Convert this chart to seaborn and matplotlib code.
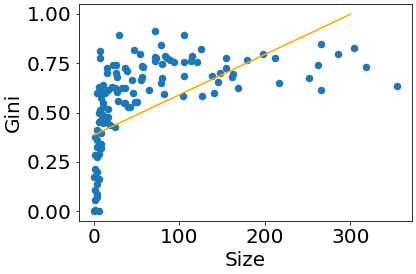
import matplotlib

matplotlib.use("Agg")
import matplotlib.pyplot as plt
import numpy as np
import pandas as pd
import seaborn as sns


OUT_PATH = "out.png"

# group size vs gini
size = [
    72, 78, 71, 73, 71, 83, 86, 89, 94, 80, 80, 79, 64, 82,
    106, 125, 115, 114, 121, 106, 105, 104, 127, 138, 147, 145, 141,
    155, 155, 161, 163, 169, 179, 198, 212, 216, 251, 262, 265, 266,
    285, 304, 318, 354,
    47, 54, 56, 58, 36, 39, 56, 55, 45, 36, 46, 36, 42, 50,
    29, 7, 7, 23, 26, 16, 15, 26, 27,
    33, 25, 21, 17, 13, 9, 4, 11, 6, 27,
    28, 35, 40, 48,
    8, 11, 7, 11, 17, 6, 11, 17, 8, 6, 15,
    11, 19, 25, 4, 8, 2,
    4, 8, 4, 9, 2, 6, 4,
    2, 4, 0, 6, 4,
    2, 4, 2, 4,
    2, 6, 0,
]
gini = [
    0.914, 0.843, 0.783, 0.775, 0.761, 0.788, 0.775, 0.766, 0.758, 0.744, 0.673, 0.651, 0.614, 0.595,
    0.893, 0.822, 0.788, 0.761, 0.756, 0.756, 0.687, 0.584, 0.584, 0.687, 0.702, 0.655, 0.599,
    0.777, 0.726, 0.680, 0.697, 0.624, 0.768, 0.797, 0.777, 0.650, 0.675, 0.741, 0.848, 0.614,
    0.797, 0.827, 0.731, 0.634,
    0.817, 0.797, 0.738, 0.729, 0.727, 0.711, 0.682, 0.665, 0.665, 0.622, 0.597, 0.546, 0.528, 0.555,
    0.893, 0.812, 0.775, 0.741, 0.741, 0.727, 0.699, 0.699, 0.682,
    0.622, 0.622, 0.631, 0.614, 0.597, 0.609, 0.597, 0.640, 0.631, 0.606,
    0.558, 0.546, 0.529, 0.555,
    0.572, 0.546, 0.513, 0.529, 0.518, 0.496, 0.487, 0.478, 0.462, 0.453, 0.453,
    0.445, 0.437, 0.428, 0.411, 0.394, 0.377,
    0.360, 0.343, 0.326, 0.318, 0.284, 0.292, 0.276,
    0.216, 0.200, 0.174, 0.165, 0.140,
    0.107, 0.089, 0.056, 0.073,
    0.005, 0.000, 0.000,
]

# fitted trend line
fit_size = [0, 300]
fit_gini = [0.386, 0.998]


def main() -> None:
    plt.rcParams["font.size"] = 20
    df = pd.DataFrame({"Size": size, "Gini": gini})
    fit_df = pd.DataFrame({"Size": fit_size, "Gini": fit_gini})

    fig, ax = plt.subplots(figsize=(416 / 72, 274 / 72), dpi=72)
    sns.scatterplot(
        data=df, x="Size", y="Gini", color="#1f77b4", edgecolor="#1f77b4",
        s=36, linewidth=1.5, ax=ax,
    )
    sns.lineplot(data=fit_df, x="Size", y="Gini", color="orange", linewidth=1.5, ax=ax)

    ax.set_xlabel("Size")
    ax.set_ylabel("Gini")
    ax.set_xticks([0, 100, 200, 300])
    ax.set_yticks([0.0, 0.25, 0.5, 0.75, 1.0])
    fig.subplots_adjust(left=0.189, right=0.99, bottom=0.193, top=0.984)
    fig.savefig(OUT_PATH, dpi=72)
    plt.close(fig)


if __name__ == "__main__":
    main()
